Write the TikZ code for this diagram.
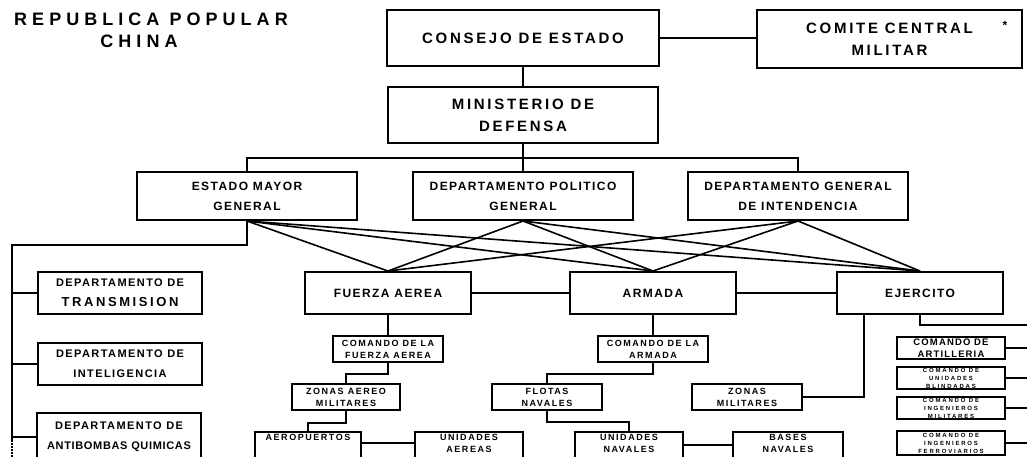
\documentclass[tikz,border=0pt]{standalone}
\usepackage{fontspec}
\setmainfont{Liberation Sans}
\usepackage{tikz}

\begin{document}
\begin{tikzpicture}[x=1pt,y=-1pt,
    line width=2pt,
    titletext/.style={align=center, font=\bfseries\fontsize{18}{22}\selectfont\addfontfeature{LetterSpace=28}},
    bigbox/.style={draw, line width=2pt, inner sep=0pt, align=center,
        font=\bfseries\fontsize{15}{22}\selectfont\addfontfeature{LetterSpace=18}},
    genbox/.style={draw, line width=2pt, inner sep=0pt, align=center,
        font=\bfseries\fontsize{12}{20}\selectfont\addfontfeature{LetterSpace=12}},
    deptbox/.style={draw, line width=2pt, inner sep=0pt, align=center,
        font=\bfseries\fontsize{11}{20}\selectfont\addfontfeature{LetterSpace=13}},
    smallbox/.style={draw, line width=2pt, inner sep=0pt, align=center,
        font=\bfseries\fontsize{9}{12}\selectfont\addfontfeature{LetterSpace=17}},
    tinybox/.style={draw, line width=2pt, inner sep=0pt, align=center,
        font=\bfseries\fontsize{6}{8}\selectfont\addfontfeature{LetterSpace=30}},
    cross/.style={line width=1.6pt}]
    \useasboundingbox (0,0) rectangle (1027,457);
    \clip (0,0) rectangle (1027,457);

    % title
    \node [titletext] (title) at (151,30) {REPUBLICA POPULAR\\CHINA\hspace*{24pt}};

    % top
    \node [bigbox, minimum width=272, minimum height=56] (consejo) at (523,38) {CONSEJO DE ESTADO};
    \node [bigbox, minimum width=265, minimum height=58] (comite) at (889.5,39) {COMITE CENTRAL\\MILITAR};
    \node [font=\bfseries\large] (ast) at (1005,25) {*};
    \node [bigbox, minimum width=270, minimum height=56] (ministerio) at (523,115) {MINISTERIO DE\\DEFENSA};

    % general departments
    \node [genbox, minimum width=220, minimum height=48] (estado) at (247,196) {ESTADO MAYOR\\GENERAL};
    \node [genbox, minimum width=220, minimum height=48] (politico) at (523,196) {DEPARTAMENTO POLITICO\\GENERAL};
    \node [genbox, minimum width=220, minimum height=48] (intendencia) at (798,196) {DEPARTAMENTO GENERAL\\DE INTENDENCIA};

    % forces
    \node [genbox, minimum width=166, minimum height=42] (fuerza) at (388,293) {FUERZA AEREA};
    \node [genbox, minimum width=166, minimum height=42] (armada) at (653,293) {ARMADA};
    \node [genbox, minimum width=166, minimum height=42] (ejercito) at (920,293) {EJERCITO};

    % left column
    \node [deptbox, minimum width=164, minimum height=42] (transmision) at (120,293)
        {DEPARTAMENTO DE\\{\fontsize{13}{20}\selectfont\addfontfeature{LetterSpace=20}TRANSMISION}};
    \node [deptbox, minimum width=164, minimum height=42] (inteligencia) at (120,364) {DEPARTAMENTO DE\\INTELIGENCIA};
    \node [deptbox, minimum width=164, minimum height=48] (antibombas) at (119,437)
        {DEPARTAMENTO DE\\\addfontfeature{LetterSpace=6}ANTIBOMBAS QUIMICAS};

    % fuerza aerea
    \node [smallbox, minimum width=110, minimum height=26] (cmdfa) at (388,349) {COMANDO DE LA\\FUERZA AEREA};
    \node [smallbox, minimum width=108, minimum height=26] (zonasaereo) at (346,397) {ZONAS AEREO\\MILITARES};
    \node [smallbox, minimum width=106, minimum height=34] (aeropuertos) at (308,449) {AEROPUERTOS\\~\\~};
    \node [smallbox, minimum width=108, minimum height=34] (unidadesaereas) at (469,449) {UNIDADES\\AEREAS\\~};

    % armada
    \node [smallbox, minimum width=110, minimum height=26] (cmdarmada) at (653,349) {COMANDO DE LA\\ARMADA};
    \node [smallbox, minimum width=110, minimum height=26] (flotas) at (547,397) {FLOTAS\\NAVALES};
    \node [smallbox, minimum width=108, minimum height=34] (unidadesnavales) at (629,449) {UNIDADES\\NAVALES\\~};
    \node [smallbox, minimum width=110, minimum height=34] (basesnavales) at (788,449) {BASES\\NAVALES\\~};

    % ejercito
    \node [smallbox, minimum width=110, minimum height=26] (zonasmil) at (747,397) {ZONAS\\MILITARES};
    \node [smallbox, minimum width=108, minimum height=22, font=\bfseries\fontsize{9.5}{12.5}\selectfont\addfontfeature{LetterSpace=12}]
        (artilleria) at (951,348) {COMANDO DE\\ARTILLERIA};
    \node [tinybox, minimum width=108, minimum height=22] (blindadas) at (951,378) {COMANDO DE\\UNIDADES\\BLINDADAS};
    \node [tinybox, minimum width=108, minimum height=22] (ingmil) at (951,408) {COMANDO DE\\INGENIEROS\\MILITARES};
    \node [tinybox, minimum width=108, minimum height=24] (ferro) at (951,443) {COMANDO DE\\INGENIEROS\\FERROVIARIOS};

    \coordinate (bus) at (523,158);
    \coordinate (lefttop) at (12,245);
    \coordinate (leftend) at (12,440);
    \coordinate (leftbot) at (12,457);
    \coordinate (ejright) at (1030,325);

    % connectors
    \draw (consejo.east) -- (consejo.east -| comite.west);
    \draw (consejo) -- (ministerio);
    \draw (ministerio) -- (bus);
    \draw (estado.north) |- (bus) -| (intendencia.north);
    \draw (bus) -- (politico.north);
    \foreach \s in {estado, politico, intendencia}
        \foreach \t in {fuerza, armada, ejercito}
            \draw [cross] (\s.south) -- (\t.north);
    \draw (fuerza) -- (armada);
    \draw (armada) -- (ejercito);

    \draw (estado.south) |- (lefttop) -- (leftend);
    \draw [densely dotted, line width=2pt] (leftend) -- (leftbot);
    \foreach \d in {transmision, inteligencia, antibombas}
        \draw (\d.west) -- (\d.west -| lefttop);

    \draw (fuerza) -- (cmdfa);
    \draw (cmdfa.south) -- ++(0,11) -| (zonasaereo.north);
    \draw (zonasaereo.south) -- ++(0,12) -| (aeropuertos.north);
    \draw ([yshift=6pt]aeropuertos.east) -- ([yshift=6pt]unidadesaereas.west);

    \draw (armada) -- (cmdarmada);
    \draw (cmdarmada.south) -- ++(0,11) -| (flotas.north);
    \draw (flotas.south) -- ++(0,11) -| (unidadesnavales.north);
    \draw ([yshift=4pt]unidadesnavales.east) -- ([yshift=4pt]basesnavales.west);

    \draw (zonasmil.east) -| ([xshift=-56pt]ejercito.south);
    \draw (ejercito.south) |- (ejright);
    \foreach \c in {artilleria, blindadas, ingmil, ferro}
        \draw (\c.east) -- (\c.east -| ejright);
\end{tikzpicture}
\end{document}
